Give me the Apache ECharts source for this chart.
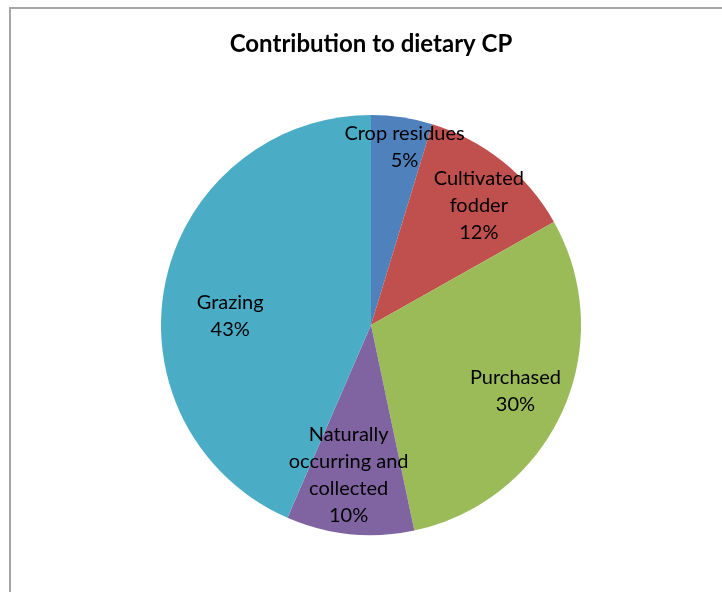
<!DOCTYPE html>
<html><head><meta charset="utf-8">
<script src="https://cdn.jsdelivr.net/npm/echarts@6/dist/echarts.min.js"></script>
<style>html,body{margin:0;padding:0;background:#fff}#c{width:722px;height:592px}</style>
</head><body><div id="c"></div>
<script>
const titleText = 'Contribution to dietary CP';
const categories = ['Crop residues', 'Cultivated\nfodder', 'Purchased', 'Naturally\noccurring and\ncollected', 'Grazing'];
const values = [4.7, 12.1, 29.8, 9.8, 43.4];
const colors = ['#4F81BD', '#C0504D', '#9BBB59', '#8064A2', '#4BACC6'];
// small label nudges (style only), mimicking Excel "best fit" placement
const labelNudge = [[11, -27], [12, 0], [5, 3], [-7, -2], [9, 22]];

const data = categories.map((c, i) => ({ name: c, value: values[i], itemStyle: { color: colors[i] } }));
const FONT = 'Lato, "Liberation Sans", sans-serif';
const chart = echarts.init(document.getElementById('c'), null, { renderer: 'canvas' });
chart.setOption({
  animation: false,
  backgroundColor: '#fff',
  title: {
    text: titleText, left: 366, top: 27, textAlign: 'center',
    textStyle: { fontFamily: FONT, fontSize: 24, fontWeight: 'bold', color: '#000' }
  },
  graphic: [{
    type: 'rect', shape: { x: 10, y: 8, width: 800, height: 700 }, silent: true,
    style: { fill: 'none', stroke: '#a6a6a6', lineWidth: 2 }
  }],
  series: [{
    type: 'pie', center: [371, 325], radius: [0, 210], startAngle: 90, clockwise: true,
    data: data, label: { show: false }, labelLine: { show: false },
    itemStyle: { borderWidth: 0 }
  }, {
    type: 'pie', center: [371, 325], radius: [100, 200], startAngle: 90, clockwise: true,
    percentPrecision: 0, avoidLabelOverlap: false, minShowLabelAngle: 0,
    data: data.map(d => ({ name: d.name, value: d.value })),
    itemStyle: { color: 'rgba(0,0,0,0)' }, silent: true,
    label: {
      show: true, position: 'inside', formatter: '{b}\n{d}%',
      fontFamily: FONT, fontSize: 20, lineHeight: 27, color: '#000', align: 'center'
    },
    labelLayout: function (p) {
      const n = labelNudge[p.dataIndex];
      return { dx: n[0], dy: n[1], hideOverlap: false };
    },
    labelLine: { show: false }
  }]
});
</script></body></html>
